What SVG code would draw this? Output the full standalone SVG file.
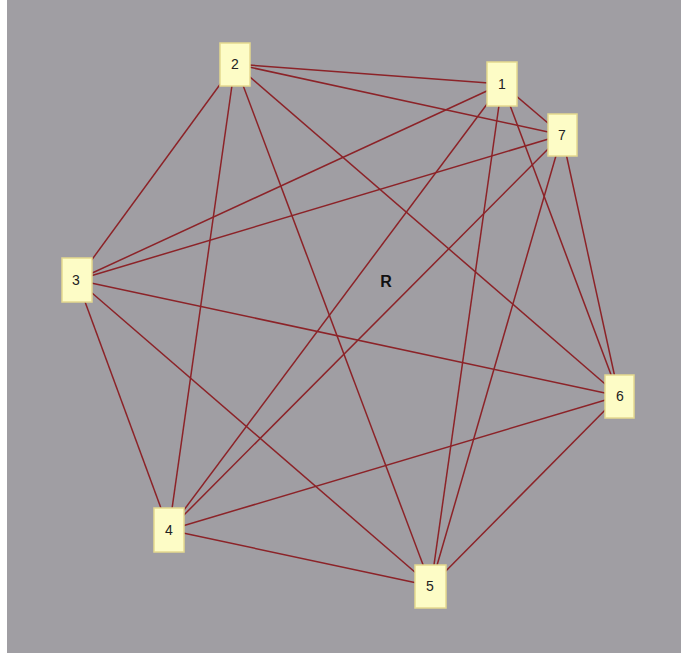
<svg xmlns="http://www.w3.org/2000/svg" width="681" height="657" viewBox="0 0 681 657">
<style>
.e{stroke:#8c2328;stroke-width:1.5;fill:none}
.n rect{fill:#fdfcc6;stroke:#e4d98f;stroke-width:1.5}
.n text{font-family:"Liberation Sans",Arial,sans-serif;font-size:14px;fill:#222;text-anchor:middle}
</style>
<rect x="0" y="0" width="681" height="657" fill="#ffffff"/>
<rect x="7" y="0" width="674" height="653" fill="#a09ea3"/>
<g id="edges">
<line class="e" x1="235" y1="64" x2="502" y2="84"/>
<line class="e" x1="235" y1="64" x2="562" y2="135"/>
<line class="e" x1="235" y1="64" x2="77" y2="280"/>
<line class="e" x1="235" y1="64" x2="169" y2="530"/>
<line class="e" x1="235" y1="64" x2="431" y2="586"/>
<line class="e" x1="235" y1="64" x2="619" y2="396"/>
<line class="e" x1="502" y1="84" x2="562" y2="135"/>
<line class="e" x1="502" y1="84" x2="77" y2="280"/>
<line class="e" x1="502" y1="84" x2="169" y2="530"/>
<line class="e" x1="502" y1="84" x2="431" y2="586"/>
<line class="e" x1="502" y1="84" x2="619" y2="396"/>
<line class="e" x1="562" y1="135" x2="77" y2="280"/>
<line class="e" x1="562" y1="135" x2="169" y2="530"/>
<line class="e" x1="562" y1="135" x2="431" y2="586"/>
<line class="e" x1="562" y1="135" x2="619" y2="396"/>
<line class="e" x1="77" y1="280" x2="619" y2="396"/>
<line class="e" x1="77" y1="280" x2="169" y2="530"/>
<line class="e" x1="77" y1="280" x2="431" y2="586"/>
<line class="e" x1="169" y1="530" x2="431" y2="586"/>
<line class="e" x1="169" y1="530" x2="619" y2="396"/>
<line class="e" x1="431" y1="586" x2="619" y2="396"/>
</g>
<g id="n2" class="n"><rect x="220" y="43" width="30" height="43"/><text x="235" y="69">2</text></g>
<g id="n1" class="n"><rect x="487" y="62" width="30" height="44"/><text x="502" y="89">1</text></g>
<g id="n7" class="n"><rect x="548" y="114" width="29" height="42"/><text x="562" y="140">7</text></g>
<g id="n3" class="n"><rect x="62" y="258" width="30" height="44"/><text x="76" y="285">3</text></g>
<g id="n6" class="n"><rect x="605" y="375" width="29" height="43"/><text x="620" y="401">6</text></g>
<g id="n4" class="n"><rect x="154" y="508" width="30" height="44"/><text x="169" y="535">4</text></g>
<g id="n5" class="n"><rect x="415" y="565" width="31" height="43"/><text x="430" y="591">5</text></g>
<text x="386" y="287" font-family="'Liberation Sans',Arial,sans-serif" font-size="16" font-weight="bold" fill="#111" text-anchor="middle">R</text>
</svg>
